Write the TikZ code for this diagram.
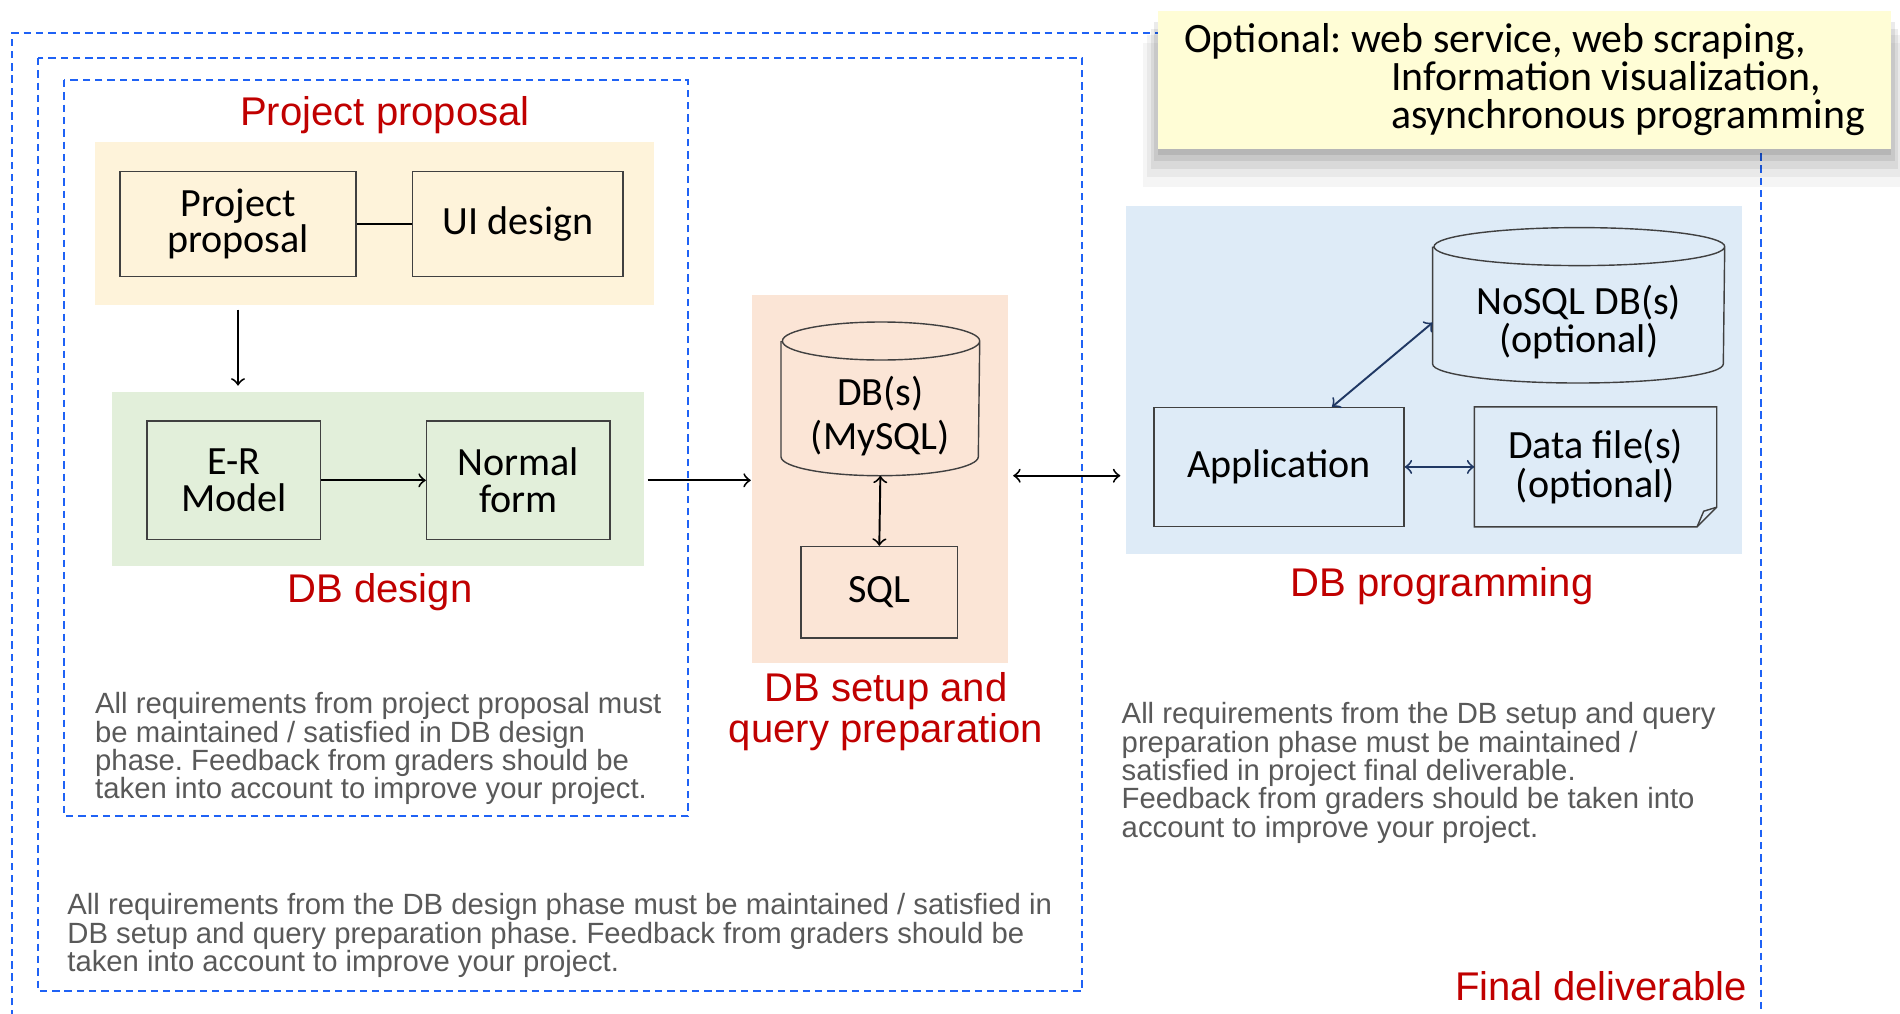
\documentclass[tikz,border=0pt]{standalone}
\usepackage{fontspec}
\setmainfont{Liberation Sans}
\newfontfamily\gillfont{Carlito}
\usepackage{xcolor}
\usetikzlibrary{arrows}
\usetikzlibrary{positioning, calc, shadows}

\definecolor{propyellow}{HTML}{FEF3DA}
\definecolor{designgreen}{HTML}{E2EFDA}
\definecolor{setuporange}{HTML}{FBE5D6}
\definecolor{progblue}{HTML}{DEEBF7}
\definecolor{optyellow}{HTML}{FFFDD6}
\definecolor{dashblue}{HTML}{1F62F5}
\definecolor{phasered}{HTML}{C00000}
\definecolor{notegray}{HTML}{595959}
\definecolor{linknavy}{HTML}{203864}

\tikzset{
  stagebox/.style={draw=black!75, line width=0.4pt, align=center, inner sep=0pt, font=\gillfont\fontsize{11.4}{10.4}\selectfont},
  panel/.style={draw=none, inner sep=0pt},
  phaselabel/.style={text=phasered, inner sep=0pt, font=\fontsize{11.4}{10}\selectfont},
  remark/.style={text=notegray, align=left, anchor=north west, inner sep=0pt, font=\fontsize{8.33}{8.05}\selectfont},
  phaseframe/.style={draw=dashblue, line width=0.6pt, dash pattern=on 2.1pt off 1.4pt},
  optbox/.style={fill=optyellow, minimum width=7.33cm, minimum height=1.378cm, align=left, inner sep=0pt,
    font=\gillfont\fontsize{11.9}{10.8}\selectfont,
    general shadow={fill=black, opacity=0.04, shadow yshift=-0.34cm, shadow scale=1.04},
    general shadow={fill=black, opacity=0.05, shadow yshift=-0.26cm, shadow scale=1.03},
    general shadow={fill=black, opacity=0.07, shadow yshift=-0.19cm, shadow scale=1.02},
    general shadow={fill=black, opacity=0.08, shadow yshift=-0.12cm, shadow scale=1.01},
    general shadow={fill=black, opacity=0.09, shadow yshift=-0.06cm}},
  link/.style={line width=0.55pt}
}

\begin{document}
\frenchspacing
\begin{tikzpicture}
        \useasboundingbox (0, 0) rectangle (19, -10.13);

        \draw[phaseframe] (0.12, -10.3) -- (0.12, -0.33) -- (17.61, -0.33) -- (17.61, -10.3);
        \draw[phaseframe] (0.38, -0.58) rectangle (10.82, -9.91);
        \draw[phaseframe] (0.64, -0.80) rectangle (6.88, -8.16);

        \node[panel, fill=propyellow, minimum width=5.59cm, minimum height=1.63cm] (proposalbg) at (3.745, -2.233) {};
        \node[panel, fill=designgreen, minimum width=5.32cm, minimum height=1.74cm] (designbg) at (3.78, -4.788) {};
        \node[panel, fill=setuporange, minimum width=2.56cm, minimum height=3.68cm] (setupbg) at (8.795, -4.79) {};
        \node[panel, fill=progblue, minimum width=6.165cm, minimum height=3.48cm] (progbg) at (14.3375, -3.799) {};

        \node[stagebox, minimum width=2.36cm, minimum height=1.05cm] (proposal) at (2.38, -2.24) {Project\\proposal};
        \node[stagebox, minimum width=2.105cm, minimum height=1.05cm] (uidesign) at (5.178, -2.24) {UI design};
        \node[stagebox, minimum width=1.735cm, minimum height=1.185cm] (ermodel) at (2.338, -4.803) {E-R\\Model};
        \node[stagebox, minimum width=1.835cm, minimum height=1.185cm] (normalform) at (5.1825, -4.803) {Normal\\form};
        \node[stagebox, minimum width=1.566cm, minimum height=0.915cm] (sql) at (8.793, -5.9225) {SQL};
        \node[stagebox, minimum width=2.50cm, minimum height=1.186cm] (app) at (12.79, -4.669) {Application};
        \node[stagebox, draw=none, minimum width=2.41cm, minimum height=1.186cm, font=\gillfont\fontsize{11.4}{11.1}\selectfont] (datafile) at (15.955, -4.669) {Data file(s)\\(optional)};

        \node[panel, minimum width=1.973cm, minimum height=1.523cm] (dbs) at (8.8035, -3.9885) {};
        \draw[draw=black!75, line width=0.4pt] ([yshift=-0.19cm]dbs.north west) -- ([yshift=0.19cm]dbs.south west) arc[start angle=180, end angle=360, x radius=0.9865cm, y radius=0.19cm] -- ([yshift=-0.19cm]dbs.north east) arc[start angle=0, end angle=180, x radius=0.9865cm, y radius=0.19cm] arc[start angle=180, end angle=360, x radius=0.9865cm, y radius=0.19cm];
        \node[stagebox, draw=none, font=\gillfont\fontsize{11.4}{12.5}\selectfont] (dbslabel) at ([yshift=-0.176cm]dbs.center) {DB(s)\\(MySQL)};

        \node[panel, minimum width=2.907cm, minimum height=1.54cm] (nosql) at (15.7865, -3.053) {};
        \draw[draw=black!75, line width=0.4pt] ([yshift=-0.19cm]nosql.north west) -- ([yshift=0.19cm]nosql.south west) arc[start angle=180, end angle=360, x radius=1.4535cm, y radius=0.19cm] -- ([yshift=-0.19cm]nosql.north east) arc[start angle=0, end angle=180, x radius=1.4535cm, y radius=0.19cm] arc[start angle=180, end angle=360, x radius=1.4535cm, y radius=0.19cm];
        \node[stagebox, draw=none, font=\gillfont\fontsize{11.4}{9.1}\selectfont] (nosqllabel) at ([yshift=-0.167cm]nosql.center) {NoSQL DB(s)\\(optional)};

        \draw[draw=black!75, line width=0.4pt] (datafile.north west) -- (datafile.north east) -- ([yshift=0.197cm]datafile.south east) -- ([xshift=-0.197cm]datafile.south east) -- (datafile.south west) -- cycle;
        \draw[draw=black!75, line width=0.4pt] ([yshift=0.197cm]datafile.south east) -- ([xshift=-0.13cm, yshift=0.157cm]datafile.south east) -- ([xshift=-0.197cm]datafile.south east);

        \draw[link] (proposal) -- (uidesign);
        \draw[link, ->, shorten <=0.04cm, shorten >=0.055cm] (proposal.south |- proposalbg.south) -- (proposal.south |- designbg.north);
        \draw[link, ->] (ermodel) -- (normalform);
        \draw[link, ->, shorten <=0.03cm] (designbg.east |- normalform.east) -- (setupbg.west |- normalform.east);
        \draw[link, <->] (dbs.south) -- (sql.north);
        \draw[link, <->, shorten <=0.05cm, shorten >=0.045cm] (setupbg.east |- dbs.south) -- (progbg.west |- dbs.south);
        \draw[link, <->, linknavy] ([xshift=0.53cm]app.north) -- ([yshift=-0.173cm]nosql.west);
        \draw[link, <->, linknavy] (app.east) -- (datafile.west);

        \node[phaselabel, anchor=base] (proposaltitle) at (3.85, -1.255) {Project proposal};
        \node[phaselabel, anchor=base] (designtitle) at (3.80, -6.027) {DB design};
        \node[phaselabel, anchor=north, align=center] (setuptitle) at (8.86, -6.717) {DB setup and\\query preparation};
        \node[phaselabel, anchor=base] (progtitle) at (14.42, -5.96) {DB programming};
        \node[phaselabel, anchor=base] (finaltitle) at (16.01, -10.0) {Final deliverable};

        \node[remark] (proposalnote) at (0.945, -6.92) {All requirements from project proposal must\\be maintained / satisfied in DB design\\phase. Feedback from graders should be\\taken into account to improve your project.};
        \node[remark] (designnote) at (0.667, -8.93) {All requirements from the DB design phase must be maintained / satisfied in\\DB setup and query preparation phase. Feedback from graders should be\\taken into account to improve your project.};
        \node[remark] (setupnote) at (11.21, -7.02) {All requirements from the DB setup and query\\preparation phase must be maintained /\\satisfied in project final deliverable.\\Feedback from graders should be taken into\\account to improve your project.};

        \node[optbox] (optional) at (15.245, -0.796) {Optional: web service, web scraping,\\\hspace*{2.07cm}Information visualization,\\\hspace*{2.07cm}asynchronous programming};

      \end{tikzpicture}
\end{document}
